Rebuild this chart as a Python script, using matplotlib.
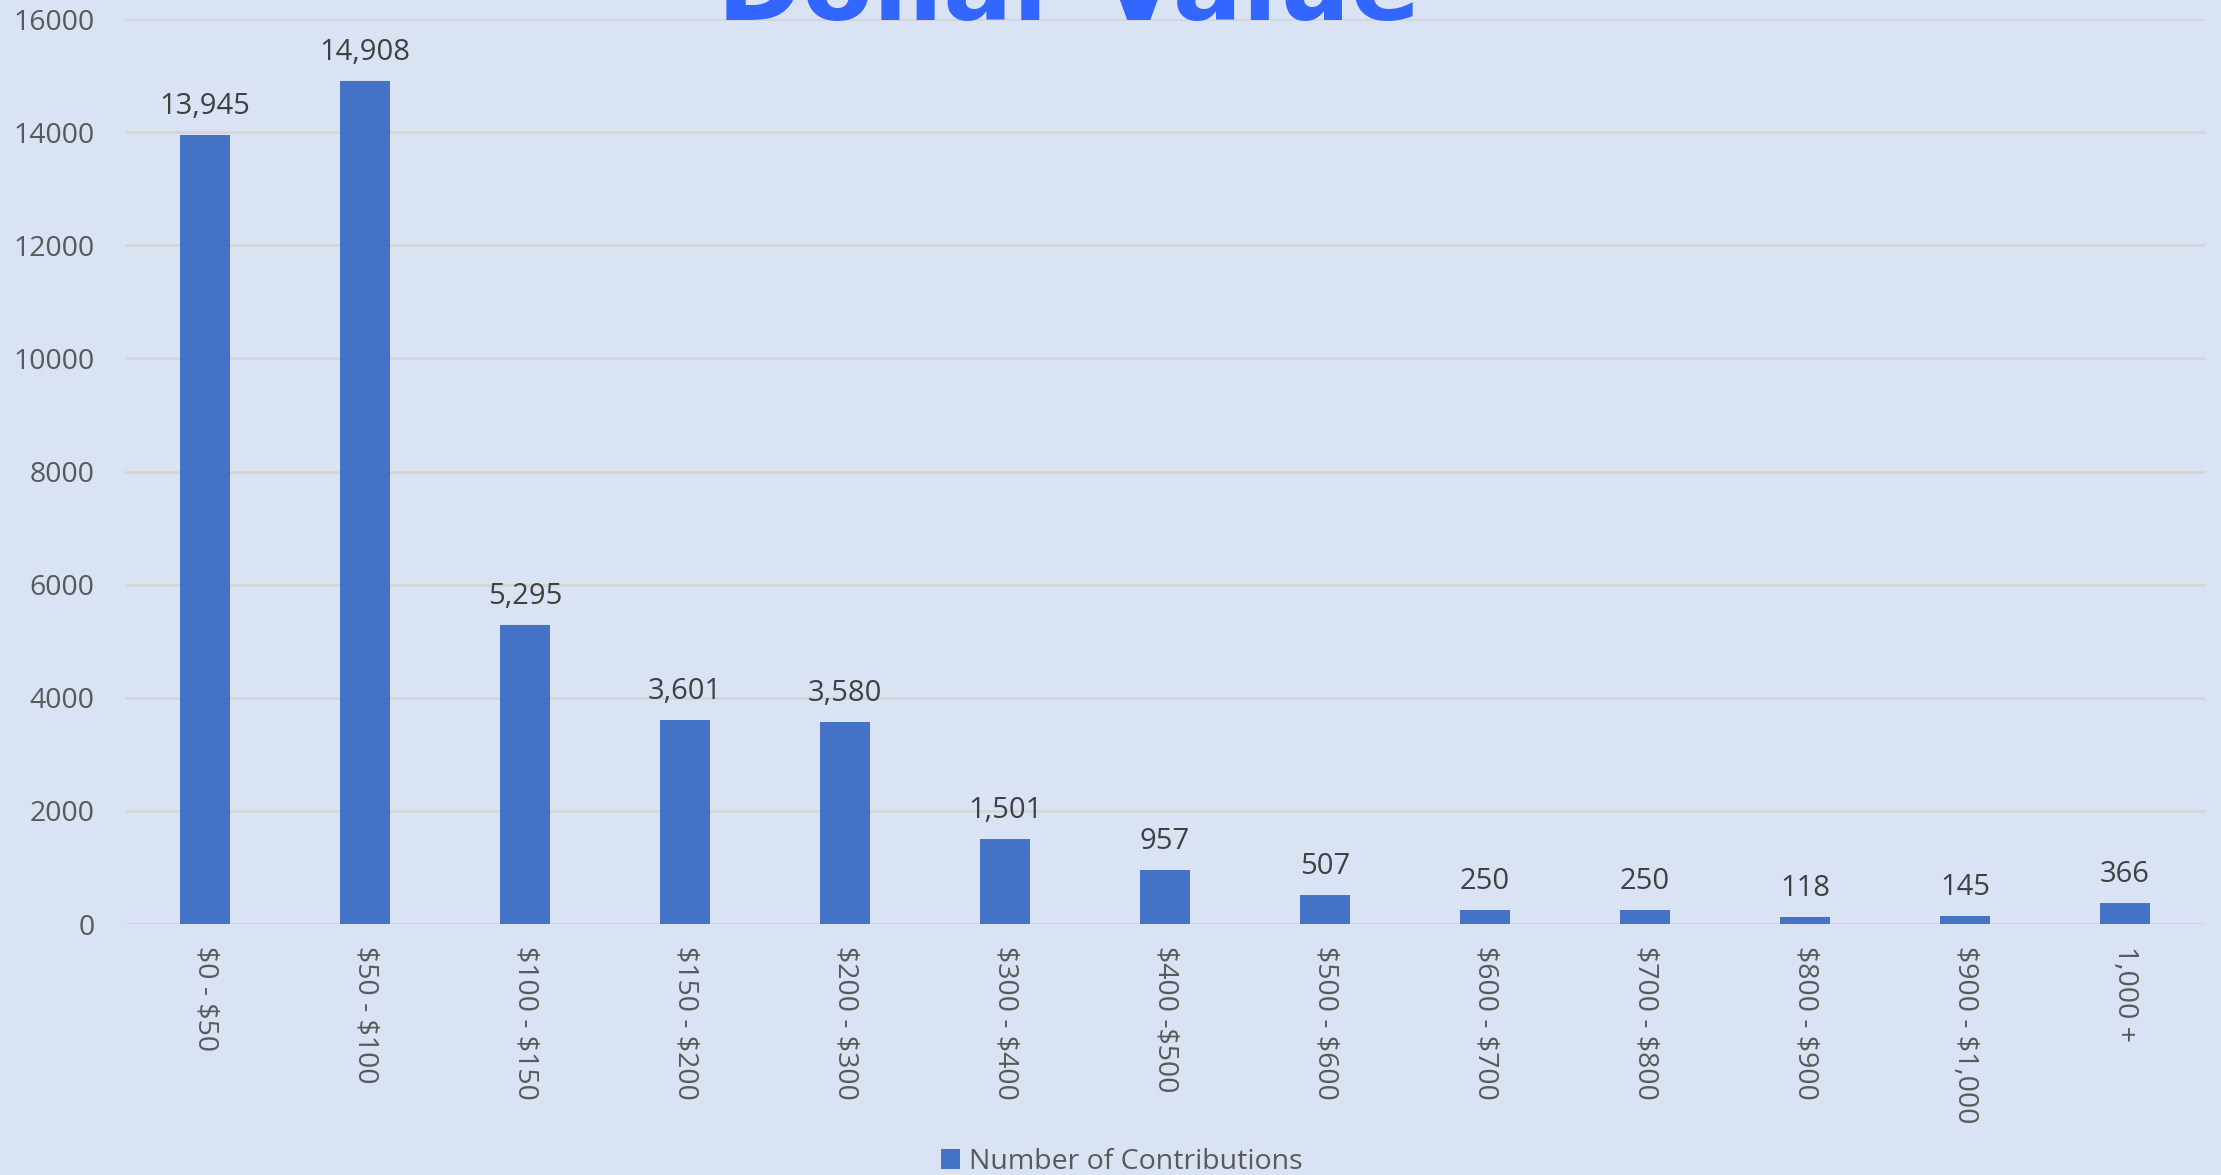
import matplotlib.pyplot as plt

plt.rcParams['text.parse_math'] = False
plt.rcParams['font.family'] = ['Open Sans', 'DejaVu Sans']

categories = ['$0 - $50', '$50 - $100', '$100 - $150', '$150 - $200', '$200 - $300',
              '$300 - $400', '$400 -$500', '$500 - $600', '$600 - $700', '$700 - $800',
              '$800 - $900', '$900 - $1,000', '1,000 +']
contributions = [13945, 14908, 5295, 3601, 3580, 1501, 957, 507, 250, 250, 118, 145, 366]
yticks = [0, 2000, 4000, 6000, 8000, 10000, 12000, 14000, 16000]

bg = '#DAE3F3'
bar_color = '#4472C4'
text_gray = '#595959'

fig = plt.figure(figsize=(22.21, 11.75), dpi=100, facecolor=bg)
ax = fig.add_axes([0.0563, 0.2136, 0.9365, 0.7702])
ax.set_facecolor(bg)

x = range(len(categories))
bars = ax.bar(x, contributions, width=0.3125, color=bar_color, zorder=2,
              label='Number of Contributions')
ax.bar_label(bars, labels=[f'{v:,}' for v in contributions], padding=10,
             fontsize=21, color='#404040')

ax.set_xlim(-0.5, len(categories) - 0.5)
ax.set_ylim(0, 16000)
ax.set_yticks(yticks)
ax.set_yticklabels([str(v) for v in yticks])
ax.set_xticks(list(x))
ax.set_xticklabels(categories, rotation=270, va='top', ha='center')
ax.tick_params(axis='both', length=0, labelsize=20.5, labelcolor=text_gray)
ax.tick_params(axis='y', pad=22)
ax.tick_params(axis='x', pad=16)
ax.grid(axis='y', color='#D5D5D5', linewidth=2, zorder=0)
for s in ax.spines.values():
    s.set_visible(False)

fig.text(0.481, 0.983, 'Dollar Value', ha='center', va='baseline',
         fontsize=74, fontweight='bold', color='#3366FF', family='DejaVu Sans')

fig.legend(loc='center', bbox_to_anchor=(0.505, 0.011), frameon=False,
           fontsize=20.5, labelcolor=text_gray, handlelength=0.7, handleheight=0.7,
           handletextpad=0.3)

fig.savefig('out.png', facecolor=bg)
